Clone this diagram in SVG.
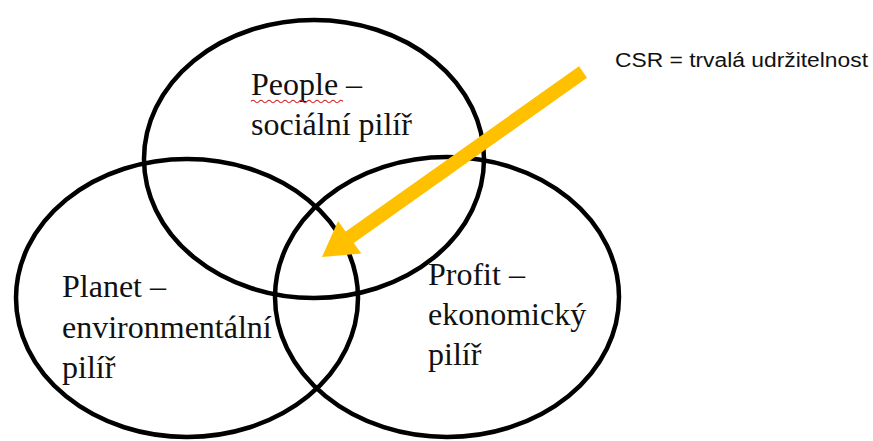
<svg xmlns="http://www.w3.org/2000/svg" width="873" height="441" viewBox="0 0 873 441">
<style>
.ring{fill:none;stroke:#000;stroke-width:4.5}
.lbl{font-family:"Liberation Serif","Times New Roman",serif;font-size:32px;fill:#111}
.note{font-family:"Liberation Sans",Arial,sans-serif;font-size:20px;fill:#111}
</style>
<rect width="873" height="441" fill="#fff"/>
<g id="people">
<ellipse class="ring" cx="314" cy="159" rx="170" ry="139"/>
<text class="lbl" x="251" y="95">People –</text>
<text class="lbl" x="251" y="135">sociální pilíř</text>
<path d="M251 101.5 q2 -2.5 4 0 t4 0 t4 0 t4 0 t4 0 t4 0 t4 0 t4 0 t4 0 t4 0 t4 0 t4 0 t4 0 t4 0 t4 0 t4 0 t4 0 t4 0 t4 0 t4 0 t4 0 t4 0 t4 0" fill="none" stroke="#e02020" stroke-width="1.2"/>
</g>
<g id="planet">
<ellipse class="ring" cx="187" cy="298" rx="171" ry="139"/>
<text class="lbl" x="62" y="297">Planet –</text>
<text class="lbl" x="62" y="338">environmentální</text>
<text class="lbl" x="62" y="378">pilíř</text>
</g>
<g id="profit">
<ellipse class="ring" cx="447" cy="297" rx="172" ry="140"/>
<text class="lbl" x="428" y="285">Profit –</text>
<text class="lbl" x="428" y="325">ekonomický</text>
<text class="lbl" x="428" y="365">pilíř</text>
</g>
<g id="csr">
<text class="note" x="615" y="67" textLength="253" lengthAdjust="spacingAndGlyphs">CSR = trvalá udržitelnost</text>
</g>
<g id="connectors">
<line x1="583" y1="72" x2="348" y2="238.5" stroke="#FFC000" stroke-width="14"/>
<polygon points="322,257 361.3,253.6 338.1,221" fill="#FFC000"/>
</g>
</svg>
